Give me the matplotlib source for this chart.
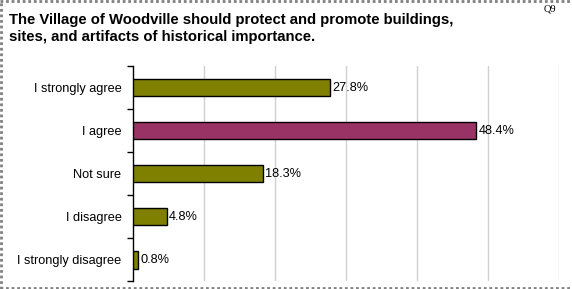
import matplotlib
matplotlib.use("Agg")
import matplotlib.pyplot as plt
from matplotlib.lines import Line2D

categories = ["I strongly agree", "I agree", "Not sure", "I disagree", "I strongly disagree"]
percents = [27.8, 48.4, 18.3, 4.8, 0.8]
bar_colors = ["#808000", "#993366", "#808000", "#808000", "#808000"]
value_labels = ["27.8%", "48.4%", "18.3%", "4.8%", "0.8%"]
title = "The Village of Woodville should protect and promote buildings,\nsites, and artifacts of historical importance."

plt.rcParams['font.family'] = ['Liberation Sans', 'DejaVu Sans']

fig = plt.figure(figsize=(5.72, 2.89), dpi=100)
ax = fig.add_axes([0.232, 0.026, 0.7444, 0.7456])

ypos = list(range(len(categories)))
ax.barh(ypos, percents, height=0.4, color=bar_colors, edgecolor='black', linewidth=1.0, zorder=3)
for y, v, lab in zip(ypos, percents, value_labels):
    ax.text(v + 0.3, y, lab, va='center', ha='left', fontsize=9.2, zorder=4)

ax.set_xlim(0, 60)
ax.set_ylim(len(categories) - 0.5, -0.5)
ax.set_xticks([10, 20, 30, 40, 50, 60])
ax.xaxis.grid(True, color='#d0d0d0', linewidth=1.0, zorder=0)
ax.tick_params(axis='x', length=0, labelbottom=False)

# category ticks sit between bars, labels at bar centres
ax.set_yticks([y - 0.5 for y in range(len(categories) + 1)])
ax.set_yticklabels([])
ax.set_yticks(ypos, minor=True)
ax.set_yticklabels(categories, minor=True, fontsize=9.2)
ax.tick_params(axis='y', which='major', length=4, width=1, direction='out')
ax.tick_params(axis='y', which='minor', length=0, pad=8)

for s in ['top', 'right', 'bottom']:
    ax.spines[s].set_visible(False)
ax.spines['left'].set_linewidth(1.0)

fig.text(9 / 572, 1 - 13 / 289, title, ha='left', va='top', fontsize=10.7, fontweight='bold', linespacing=1.25)
fig.text(550 / 572, 1 - 9 / 289, "Q9", ha='center', va='center', fontsize=7.5, family='Liberation Serif')

# dotted frame round the chart
frame_kw = dict(color='#808080', linewidth=2, linestyle=(0, (1, 1)), transform=fig.transFigure)
fig.add_artist(Line2D([0.002, 0.002], [0, 1], **frame_kw))
fig.add_artist(Line2D([0, 1], [0.998, 0.998], **frame_kw))
fig.add_artist(Line2D([0, 1], [0.004, 0.004], **frame_kw))

fig.savefig("out.png", dpi=100)
